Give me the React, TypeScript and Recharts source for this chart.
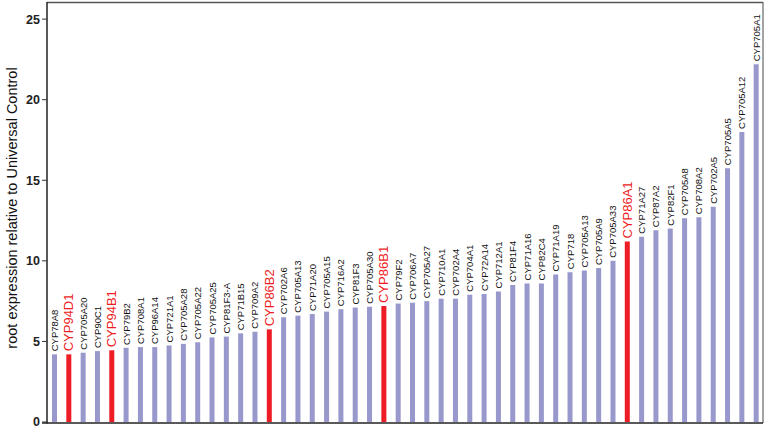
import { BarChart, Bar, XAxis, YAxis, LabelList, Cell } from 'recharts'

const genes = [
  'CYP78A8', 'CYP94D1', 'CYP705A20', 'CYP90C1', 'CYP94B1', 'CYP79B2', 'CYP708A1', 'CYP96A14', 'CYP721A1', 'CYP705A28',
  'CYP705A22', 'CYP705A25', 'CYP81F3-A', 'CYP71B15', 'CYP709A2', 'CYP86B2', 'CYP702A6', 'CYP705A13', 'CYP71A20', 'CYP705A15',
  'CYP716A2', 'CYP81F3', 'CYP705A30', 'CYP86B1', 'CYP79F2', 'CYP706A7', 'CYP705A27', 'CYP710A1', 'CYP702A4', 'CYP704A1',
  'CYP72A14', 'CYP712A1', 'CYP81F4', 'CYP71A16', 'CYP82C4', 'CYP71A19', 'CYP718', 'CYP705A13', 'CYP705A9', 'CYP705A33',
  'CYP86A1', 'CYP71A27', 'CYP87A2', 'CYP82F1', 'CYP705A8', 'CYP708A2', 'CYP702A5', 'CYP705A5', 'CYP705A12', 'CYP705A1',
]

const expression = [
  4.2, 4.2, 4.3, 4.4, 4.45, 4.6, 4.65, 4.65, 4.75, 4.85,
  4.95, 5.25, 5.3, 5.5, 5.6, 5.75, 6.5, 6.6, 6.7, 6.85,
  7.0, 7.1, 7.15, 7.2, 7.35, 7.4, 7.5, 7.65, 7.65, 7.9,
  7.95, 8.1, 8.5, 8.6, 8.6, 9.15, 9.3, 9.4, 9.55, 10.0,
  11.2, 11.5, 11.9, 12.0, 12.65, 12.7, 13.35, 15.75, 18.0, 22.2,
]

const highlighted = ['CYP94D1', 'CYP94B1', 'CYP86B2', 'CYP86B1', 'CYP86A1']

const yTicks = [0, 5, 10, 15, 20, 25]

const BLUE = '#9898cc'
const RED = '#ee1c24'
const FONT = "Arial, 'Liberation Sans', sans-serif"

const data = genes.map((g, i) => ({ name: g, value: expression[i], hi: highlighted.includes(g) }))

function GeneLabel(props: any) {
  const { x, y, width, index } = props
  const d = data[index]
  const cx = x + width / 2
  const cy = y - 3
  return (
    <text
      x={cx}
      y={cy}
      transform={`rotate(-90 ${cx} ${cy})`}
      textAnchor="start"
      dominantBaseline="central"
      fontSize={d.hi ? 13 : 9.5}
      fill={d.hi ? RED : '#111'}
      fontFamily={FONT}
    >
      {d.name}
    </text>
  )
}

function AxisTitle() {
  return (
    <text x={12} y={208} transform="rotate(-90 12 208)" textAnchor="middle" dominantBaseline="central" fontSize={14.5} fill="#111" fontFamily={FONT}>
      root expression relative to Universal Control
    </text>
  )
}

export default function App() {
  return (
    <div style={{ position: 'absolute', left: 0, top: 0, background: '#fff' }}>
      <BarChart width={768} height={431} data={data} margin={{ top: 3, right: 5, left: 0, bottom: 8 }} barCategoryGap={0}>
        <XAxis dataKey="name" tick={false} tickLine={false} height={1} axisLine={false} />
        <YAxis
          width={47}
          domain={[0, 26]}
          ticks={yTicks}
          allowDataOverflow
          tickSize={5}
          tickLine={{ stroke: '#333' }}
          axisLine={false}
          tick={{ fontSize: 12.5, fontWeight: 'bold', fill: '#222', fontFamily: FONT }}
          label={<AxisTitle />}
        />
        <Bar dataKey="value" barSize={5} isAnimationActive={false}>
          {data.map((d, i) => (
            <Cell key={i} fill={d.hi ? RED : BLUE} />
          ))}
          <LabelList dataKey="name" content={<GeneLabel />} />
        </Bar>
        <line x1={47} y1={2.5} x2={763} y2={2.5} stroke="#555" strokeWidth={1.3} />
        <line x1={763} y1={2} x2={763} y2={423} stroke="#666" strokeWidth={1.2} />
        <line x1={47} y1={2} x2={47} y2={423.5} stroke="#222" strokeWidth={1.5} />
        <line x1={42} y1={423} x2={763} y2={423} stroke="#222" strokeWidth={1.5} />
      </BarChart>
    </div>
  )
}
